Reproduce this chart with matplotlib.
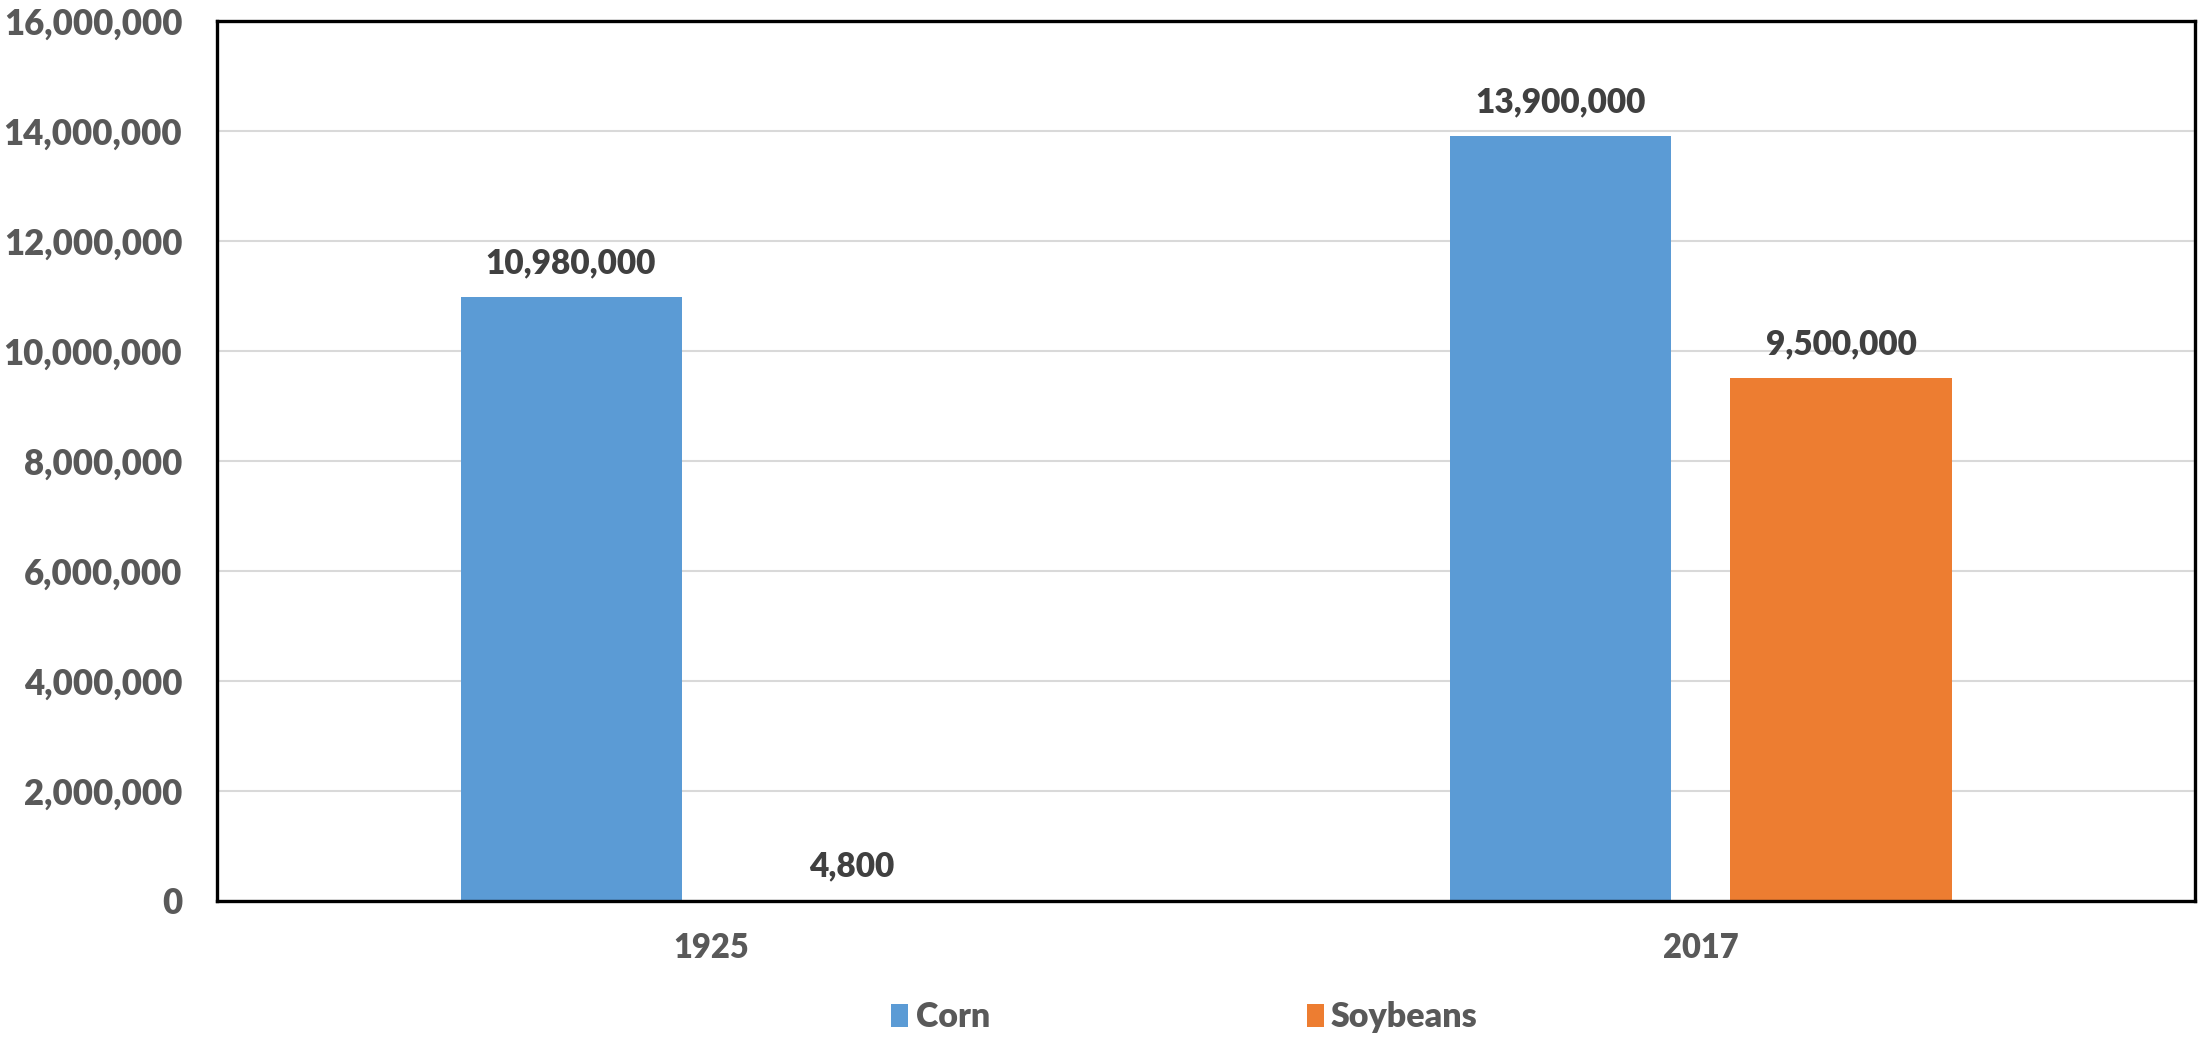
import matplotlib
matplotlib.use("Agg")
import matplotlib.pyplot as plt
import numpy as np
from matplotlib.patches import Patch
from matplotlib.ticker import FuncFormatter

# Acres planted, by year
years = ["1925", "2017"]
corn = [10980000, 13900000]
soybeans = [4800, 9500000]
series_names = ["Corn", "Soybeans"]
colors = ["#5B9BD5", "#ED7D31"]

plt.rcParams["font.family"] = ["Lato", "DejaVu Sans"]
W = "heavy"

fig = plt.figure(figsize=(22.07, 10.38), dpi=100)
ax = fig.add_axes([0.0983, 0.132, 0.8963, 0.8478])

x = np.arange(len(years))
width = 0.2235
offset = 0.142

b1 = ax.bar(x - offset, corn, width, color=colors[0], zorder=2)
b2 = ax.bar(x + offset, soybeans, width, color=colors[1], zorder=2)

for bars in (b1, b2):
    for rect in bars:
        h = rect.get_height()
        ax.annotate(f"{h:,.0f}", (rect.get_x() + rect.get_width() / 2, h),
                    xytext=(0, 13), textcoords="offset points",
                    ha="center", va="bottom", fontsize=24,
                    fontweight=W, color="#404040")

ax.set_xlim(-0.5, 1.5)
ax.set_ylim(0, 16000000)
ax.set_yticks(np.arange(0, 16000001, 2000000))
ax.yaxis.set_major_formatter(FuncFormatter(lambda v, p: f"{v:,.0f}"))
ax.set_xticks(x)
ax.set_xticklabels(years)

ax.tick_params(axis="y", length=0, pad=25, labelsize=25, labelcolor="#595959")
ax.tick_params(axis="x", length=0, pad=22, labelsize=23.5, labelcolor="#595959")
for lab in ax.get_yticklabels() + ax.get_xticklabels():
    lab.set_fontweight(W)

ax.grid(axis="y", color="#D9D9D9", linewidth=1.5, zorder=0)
ax.set_axisbelow(True)
for s in ax.spines.values():
    s.set_color("black")
    s.set_linewidth(2.4)

handles = [Patch(facecolor=c, edgecolor="none") for c in colors]
leg = fig.legend(handles, series_names, loc="center left",
                 bbox_to_anchor=(0.39, 0.02), ncol=2, frameon=False,
                 handlelength=0.5, handleheight=0.68, handletextpad=0.22,
                 columnspacing=9.3, prop={"size": 24.5, "weight": W})
for t in leg.get_texts():
    t.set_color("#595959")

fig.savefig("out.png", dpi=100, facecolor="white")
